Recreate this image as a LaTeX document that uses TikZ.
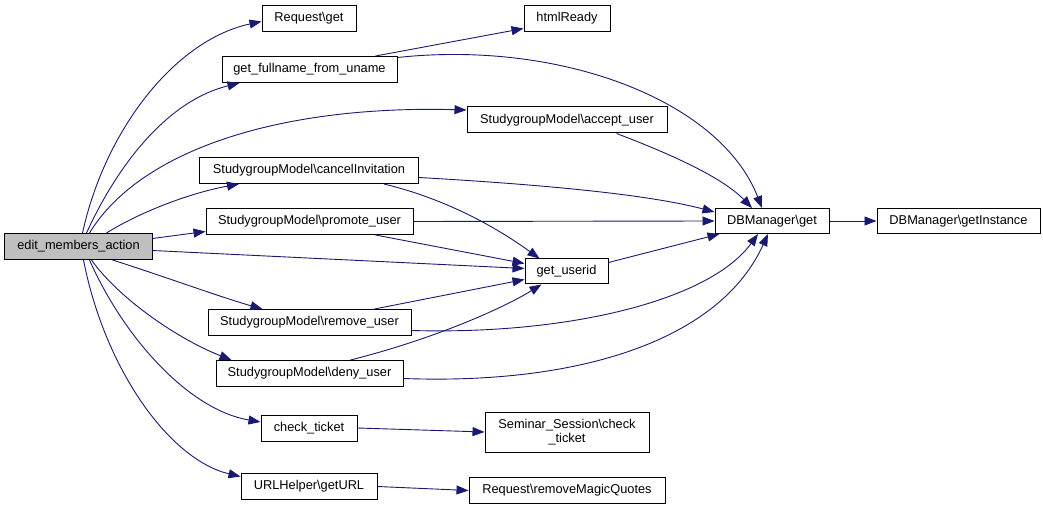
\documentclass[tikz,border=0pt]{standalone}
\usepackage{fontspec}
\setmainfont{Liberation Sans}
\usetikzlibrary{arrows.meta,calc}
\definecolor{edgeblue}{HTML}{191970}
\definecolor{nodegray}{HTML}{BFBFBF}
\begin{document}
\begin{tikzpicture}[x=1bp,y=-1bp,
 box/.style={draw=black,line width=1bp,fill=white,minimum height=26bp,inner sep=0pt,align=center,font=\fontsize{12.8bp}{14bp}\selectfont},
 edge/.style={draw=edgeblue,line width=0.9bp,-{Triangle[length=12bp,width=9bp]}}]
\useasboundingbox (0,0) rectangle (1043,509);
% nodes
\node[box,minimum width=147bp,fill=nodegray] (edit) at (78.5,246.5) {edit\_members\_action};
\node[box,minimum width=94bp] (req) at (309,18.5) {Request\textbackslash get};
\node[box,minimum width=175bp] (full) at (309.5,69.5) {get\_fullname\_from\_uname};
\node[box,minimum width=86bp] (html) at (567,18.5) {htmlReady};
\node[box,minimum width=200bp] (accept) at (567,120) {StudygroupModel\textbackslash accept\_user};
\node[box,minimum width=219bp] (cancel) at (309,170.5) {StudygroupModel\textbackslash cancelInvitation};
\node[box,minimum width=207bp] (promote) at (309.5,221.5) {StudygroupModel\textbackslash promote\_user};
\node[box,minimum width=114bp,minimum height=25bp] (db) at (772,221) {DBManager\textbackslash get};
\node[box,minimum width=163bp,minimum height=25bp] (inst) at (958.5,221) {DBManager\textbackslash getInstance};
\node[box,minimum width=83bp,minimum height=25bp] (userid) at (566.5,271.5) {get\_userid};
\node[box,minimum width=203bp] (remove) at (309.5,322.5) {StudygroupModel\textbackslash remove\_user};
\node[box,minimum width=187bp] (deny) at (309.5,373.5) {StudygroupModel\textbackslash deny\_user};
\node[box,minimum width=96bp] (check) at (309,428) {check\_ticket};
\node[box,minimum width=164bp,minimum height=40bp] (sem) at (567,432) {Seminar\_Session\textbackslash check\\\_ticket};
\node[box,minimum width=136bp] (url) at (309,486.5) {URLHelper\textbackslash getURL};
\node[box,minimum width=196bp] (rmq) at (567,490.5) {Request\textbackslash removeMagicQuotes};
% edges from edit
\draw[edge] ($(edit.north west)+(78,0)$) .. controls (105,130) and (175,40) .. ($(req.west)+(0,3)$);
\draw[edge] ($(edit.north west)+(82,0)$) .. controls (120,160) and (170,100) .. ($(full.south west)+(18,0)$);
\draw[edge] ($(edit.north west)+(85,0)$) .. controls (140,150) and (280,105) .. ($(accept.west)+(0,-10)$);
\draw[edge] ($(edit.north west)+(102,0)$) .. controls (140,212) and (190,193) .. ($(cancel.south west)+(40,0)$);
\draw[edge] ($(edit.east)+(0,-8)$) -- ($(promote.west)+(0,10)$);
\draw[edge] ($(edit.east)+(0,4)$) -- ($(userid.west)+(0,-3)$);
\draw[edge] ($(edit.south west)+(108,0)$) .. controls (160,275) and (220,297) .. ($(remove.north west)+(55,0)$);
\draw[edge] ($(edit.south west)+(87,0)$) .. controls (120,300) and (180,340) .. ($(deny.north west)+(16,0)$);
\draw[edge] ($(edit.south west)+(85,0)$) .. controls (125,340) and (190,410) .. ($(check.west)+(0,-6)$);
\draw[edge] ($(edit.south west)+(79,0)$) .. controls (105,370) and (170,460) .. ($(url.west)+(0,-10)$);
% other edges
\draw[edge] ($(full.north east)+(-22,0)$) -- ($(html.west)+(0,10)$);
\draw[edge] ($(full.east)+(0,-12)$) .. controls (560,40) and (720,100) .. ($(db.north)+(-10,0)$);
\draw[edge] ($(accept.south west)+(150,0)$) .. controls (660,150) and (720,175) .. ($(db.north)+(-20,0)$);
\draw[edge] ($(cancel.east)+(0,7)$) .. controls (550,185) and (650,195) .. ($(db.west)+(0,-9)$);
\draw[edge] ($(cancel.south west)+(185,0)$) .. controls (450,200) and (500,230) .. ($(userid.north west)+(15,0)$);
\draw[edge] (promote.east) -- (db.west);
\draw[edge] ($(promote.south west)+(170,0)$) -- ($(userid.west)+(0,-8)$);
\draw[edge] ($(remove.north west)+(167,0)$) -- ($(userid.west)+(0,8)$);
\draw[edge] ($(remove.east)+(0,8)$) .. controls (570,335) and (710,300) .. ($(db.south)+(-14,0)$);
\draw[edge] ($(deny.north west)+(135,0)$) .. controls (430,340) and (500,310) .. ($(userid.south west)+(17,0)$);
\draw[edge] ($(deny.east)+(0,5)$) .. controls (580,385) and (720,340) .. ($(db.south)+(-4,0)$);
\draw[edge] ($(userid.east)+(0,-9)$) -- ($(db.south west)+(5,0)$);
\draw[edge] (db.east) -- (inst.west);
\draw[edge] (check.east) -- (sem.west);
\draw[edge] (url.east) -- (rmq.west);
\end{tikzpicture}
\end{document}
